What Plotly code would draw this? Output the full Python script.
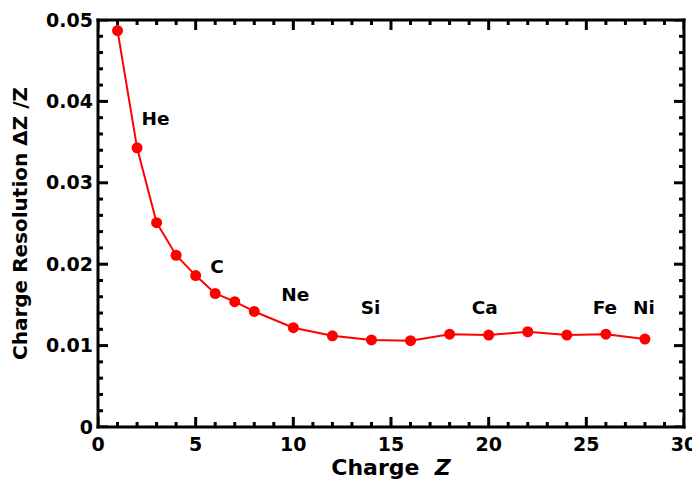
import numpy as np
import plotly.graph_objects as go

charge_z = [1, 2, 3, 4, 5, 6, 7, 8, 10, 12, 14, 16, 18, 20, 22, 24, 26, 28]
resolution = [0.0487, 0.0343, 0.0251, 0.0211, 0.0186, 0.0164, 0.0154, 0.0142,
              0.0122, 0.0112, 0.0107, 0.0106, 0.0114, 0.0113, 0.0117, 0.0113, 0.0114, 0.0108]

element_names = ["He", "C", "Ne", "Si", "Ca", "Fe", "Ni"]
element_x = [2.95, 6.1, 10.1, 13.95, 19.8, 25.95, 27.95]
element_y = [0.0377, 0.0195, 0.0161, 0.0144, 0.0144, 0.0144, 0.0144]

x_range = [0, 30]
y_range = [0, 0.05]
x_major, x_minor = 5, 1
y_major, y_minor = 0.01, 0.002

FONT = "DejaVu Sans, Liberation Sans, Arial, sans-serif"

W, H = 692, 478
ML, MR, MT, MB = 90, 16, 12, 59
plot_w, plot_h = W - ML - MR, H - MT - MB
MAJ_LEN, MIN_LEN, LW = 10, 5, 3

x0, x1 = x_range
y0, y1 = y_range
hx = (LW / 2) / plot_w   # half line width in paper units (x)
hy = (LW / 2) / plot_h   # half line width in paper units (y)
x_half = (LW / 2) * (x1 - x0) / plot_w
y_half = (LW / 2) * (y1 - y0) / plot_h

x_ticks_major = np.arange(x0, x1 + 1e-9, x_major)
x_ticks_all = np.arange(x0, x1 + 1e-9, x_minor)
y_ticks_major = np.round(np.arange(y0, y1 + 1e-12, y_major), 6)
y_ticks_all = np.round(np.arange(y0, y1 + 1e-12, y_minor), 6)

# frame and ticks as filled black rectangles (no strokes)
def box(xref, yref, a, b, c, d):
    return dict(type="rect", xref=xref, yref=yref, x0=a, x1=b, y0=c, y1=d,
                fillcolor="black", line=dict(width=0), opacity=1, layer="above")

shapes = [
    box("paper", "paper", -hx, hx, -hy, 1 + hy),
    box("paper", "paper", 1 - hx, 1 + hx, -hy, 1 + hy),
    box("paper", "paper", -hx, 1 + hx, -hy, hy),
    box("paper", "paper", -hx, 1 + hx, 1 - hy, 1 + hy),
]
for v in x_ticks_all:
    L = (MAJ_LEN if np.any(np.isclose(v, x_ticks_major)) else MIN_LEN) / plot_h
    shapes.append(box("x", "paper", v - x_half, v + x_half, 0, L))
    shapes.append(box("x", "paper", v - x_half, v + x_half, 1 - L, 1))
for v in y_ticks_all:
    L = (MAJ_LEN if np.any(np.isclose(v, y_ticks_major)) else MIN_LEN) / plot_w
    shapes.append(box("paper", "y", 0, L, v - y_half, v + y_half))
    shapes.append(box("paper", "y", 1 - L, 1, v - y_half, v + y_half))

fig = go.Figure()
fig.add_trace(go.Scatter(
    x=charge_z, y=resolution, mode="lines+markers",
    line=dict(color="#ff0000", width=2),
    marker=dict(color="#ff0000", size=11),
    showlegend=False,
))
fig.add_trace(go.Scatter(
    x=element_x, y=element_y, mode="text", text=element_names,
    textfont=dict(family=FONT, size=18.5, color="black", weight="bold"),
    showlegend=False, hoverinfo="skip",
))

fig.update_layout(
    template="none",
    width=W, height=H,
    margin=dict(l=ML, r=MR, t=MT, b=MB),
    paper_bgcolor="white", plot_bgcolor="white",
    font=dict(family=FONT, color="black"),
    xaxis=dict(
        range=x_range, tickmode="linear", tick0=0, dtick=x_major,
        showline=False, ticks="", showgrid=False, zeroline=False, automargin=False,
        ticklabelstandoff=4,
        tickfont=dict(family=FONT, size=19, color="black", weight="bold"),
        title=dict(text="Charge  <i>Z</i>", font=dict(family=FONT, size=22, color="black", weight="bold"),
                   standoff=2),
    ),
    yaxis=dict(
        range=y_range, tickmode="linear", tick0=0, dtick=y_major,
        showline=False, ticks="", showgrid=False, zeroline=False, automargin=False,
        ticklabelstandoff=4,
        tickfont=dict(family=FONT, size=19, color="black", weight="bold"),
        title=dict(text="Charge Resolution ΔZ /Z", font=dict(family=FONT, size=20, color="black", weight="bold"),
                   standoff=16),
    ),
    shapes=shapes,
)

fig.write_html("out.html")
